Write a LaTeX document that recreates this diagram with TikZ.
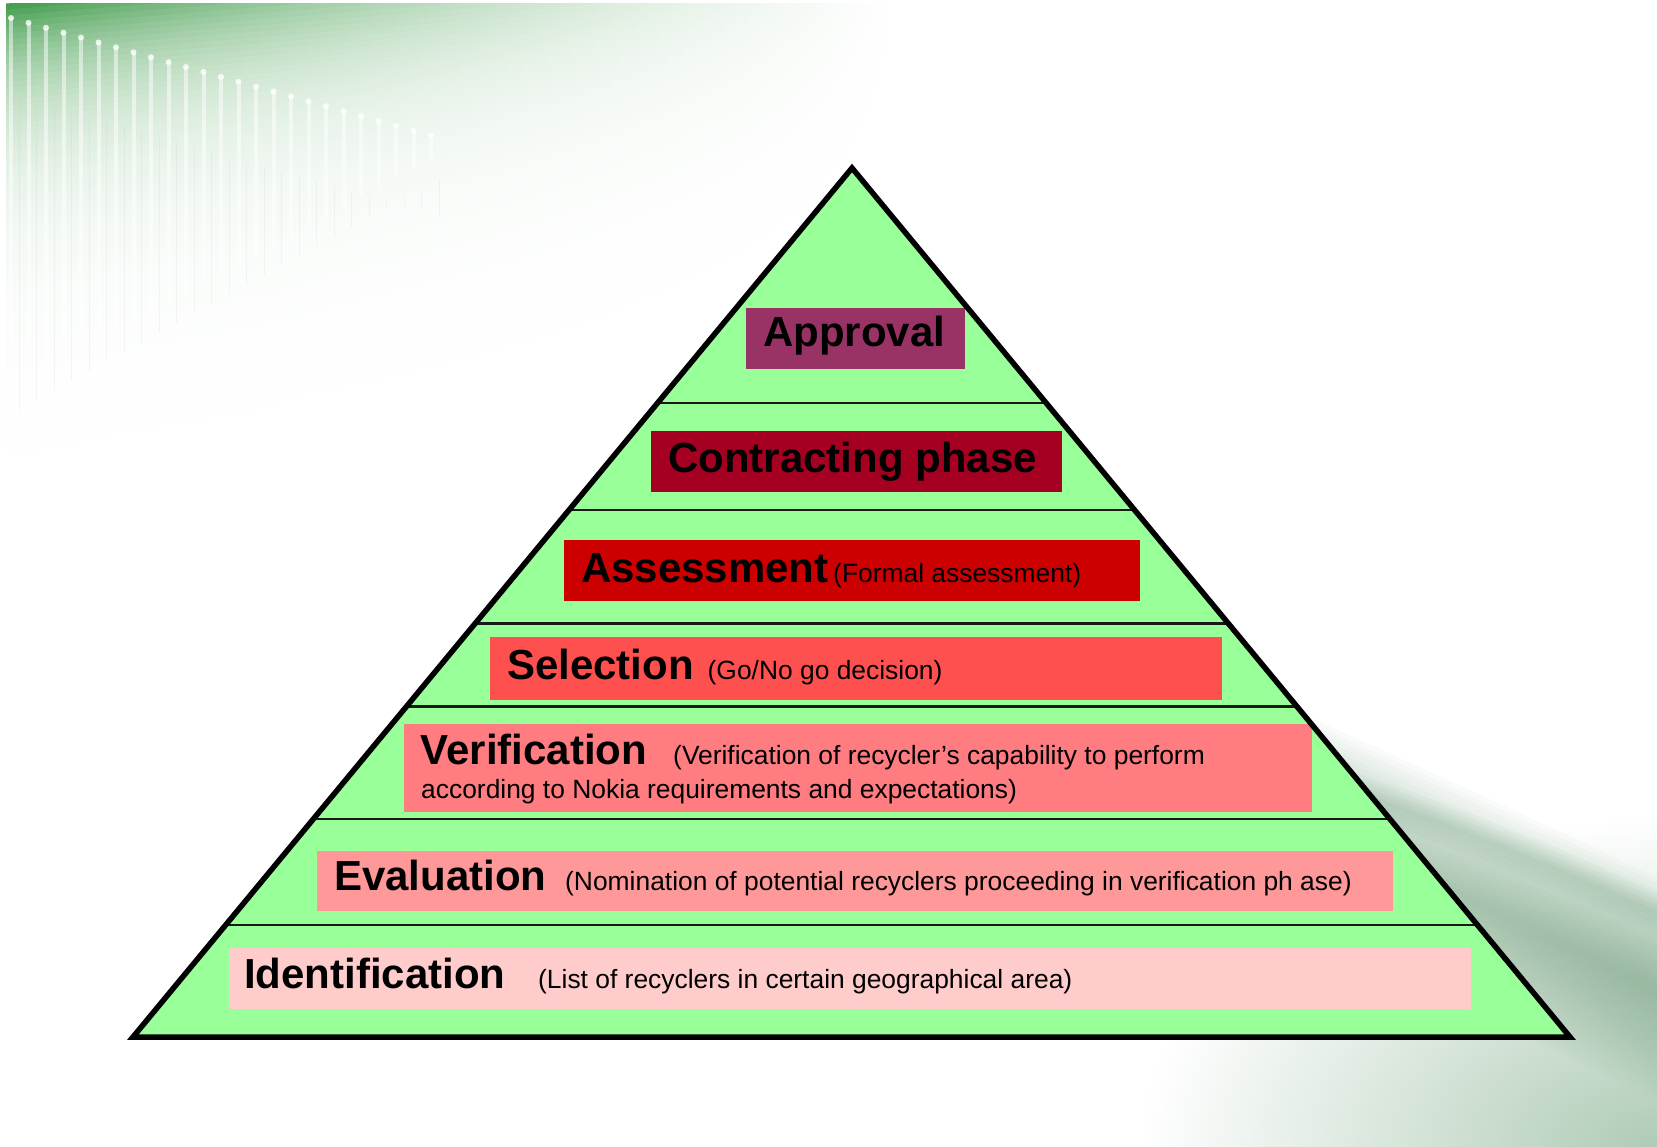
\documentclass[tikz,border=0pt]{standalone}
\usepackage{fontspec}
\setmainfont{Liberation Sans}
\definecolor{pyrgreen}{HTML}{99FF99}
\definecolor{cApproval}{HTML}{993366}
\definecolor{cContract}{HTML}{A50021}
\definecolor{cAssess}{HTML}{CC0000}
\definecolor{cSelect}{HTML}{FF5050}
\definecolor{cVerify}{HTML}{FF7C80}
\definecolor{cEval}{HTML}{FF9999}
\definecolor{cIdent}{HTML}{FFCCCC}
\definecolor{tlgreen}{RGB}{70,158,80}
\definecolor{swgreen}{RGB}{110,160,122}
\begin{document}
\begin{tikzpicture}[x=1pt,y=-1pt,
  boldtxt/.style={font=\fontsize{42}{48}\selectfont\bfseries, inner sep=0pt, anchor=base west},
  regtxt/.style={font=\fontsize{26.4}{32}\selectfont, inner sep=0pt, anchor=base west},
  sepline/.style={line width=2.2pt, black!90},
  pyredge/.style={line width=5.5pt, line join=miter}]
\useasboundingbox (0,0) rectangle (1657,1147);
\fill[white] (0,0) rectangle (1657,1147);

% ---- top-left decoration: opaque sheared strips, colour fading right and down
\begin{scope}
  \clip (6,4) rectangle (900,470);
  \foreach \k in {0,...,76} {
    \pgfmathsetmacro\uu{4+6*\k}
    \pgfmathsetmacro\pp{100*exp(-(\uu-4)/85)}
    \pgfmathsetmacro\qq{0.72*\pp}
    \pgfmathsetmacro\ya{\uu-0.08*6}
    \pgfmathsetmacro\yb{\uu-0.08*900}
    \shade[left color=tlgreen!\pp!white, middle color=tlgreen!\qq!white, right color=white]
      (6,\ya) -- (900,\yb) -- (900,\yb+7) -- (6,\ya+7) -- cycle;
  }
\end{scope}
\foreach \i in {0,...,24} {
  \pgfmathsetmacro\sx{11+17.5*\i}
  \pgfmathsetmacro\sy{18+0.28*(\sx-11)}
  \pgfmathsetmacro\se{390-0.55*(\sx-11)}
  \draw[white, line width=4pt, opacity=0.5] (\sx,\sy) -- (\sx,\se);
  \fill[white, opacity=0.8] (\sx,\sy) circle (3);
  \draw[black!30, line width=1pt, opacity=0.12] (\sx+8,\sy+80) -- (\sx+8,\se+20);
}

% ---- bottom-right decoration
\shade[inner color=swgreen!55!white, outer color=white] (1657,1147) ellipse [x radius=520, y radius=330];
\foreach \w in {10,20,...,200}
  \draw[swgreen, line width=\w pt, opacity=0.035]
    (1250,800) .. controls (1450,890) and (1580,950) .. (1740,1030);
\foreach \w in {4,10,...,40}
  \draw[swgreen, line width=\w pt, opacity=0.04]
    (1250,760) .. controls (1450,820) and (1560,870) .. (1740,950);

% ---- pyramid
\coordinate (apex) at (852,168);
\coordinate (bl) at (133,1037);
\coordinate (br) at (1570,1037);
\fill[pyrgreen] (apex) -- (bl) -- (br) -- cycle;
\begin{scope}
  \clip (apex) -- (bl) -- (br) -- cycle;
  \foreach \yy in {403,510,623.5,706.5,819,925}
    \draw[sepline] (0,\yy) -- (1657,\yy);
\end{scope}

% ---- level boxes
\fill[cApproval] (746,308) rectangle (965,369);
\fill[cContract] (651,431) rectangle (1062,492);
\fill[cAssess] (564,540) rectangle (1140,601);
\fill[cSelect] (490,637) rectangle (1222,700);
\fill[cVerify] (404,724) rectangle (1312,812);
\fill[cEval] (317,851) rectangle (1393,911);
\fill[cIdent] (229,948) rectangle (1471,1009);

% ---- texts
\node[boldtxt] (tApp) at (763,347) {Approval};
\node[boldtxt] (tCon) at (668,472) {Contracting phase};
\node[boldtxt] (tAss) at (581,582) {Assessment};
\node[regtxt] (dAss) at (833,582) {(Formal assessment)};
\node[boldtxt] (tSel) at (507,679) {Selection};
\node[regtxt] (dSel) at (707.5,679) {(Go/No go decision)};
\node[boldtxt] (tVer) at (420.5,764) {Verification};
\node[regtxt] (dVer) at (673,764) {(Verification of recycler’s capability to perform};
\node[regtxt] (dVerb) at (421,798) {according to Nokia requirements and expectations)};
\node[boldtxt] (tEva) at (334,890) {Evaluation};
\node[regtxt] (dEva) at (565,890) {(Nomination of potential recyclers proceeding in verification ph ase)};
\node[boldtxt] (tIde) at (244,988) {Identification};
\node[regtxt] (dIde) at (538,988) {(List of recyclers in certain geographical area)};

% ---- outline
\draw[pyredge] (apex) -- (bl) -- (br) -- cycle;
\end{tikzpicture}
\end{document}
